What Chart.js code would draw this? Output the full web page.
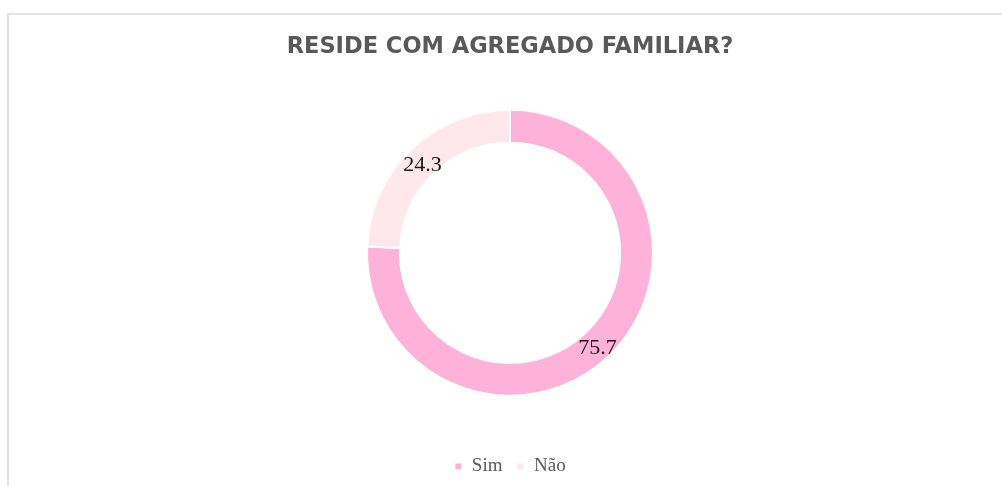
<!DOCTYPE html>
<html>
<head>
<meta charset="utf-8">
<script src="https://cdn.jsdelivr.net/npm/chart.js@4"></script>
<style>
  html, body { margin: 0; padding: 0; background: #fff; overflow: hidden; }
  #wrap { position: relative; width: 1002px; height: 486px; }
  #frame { position: absolute; left: 7px; top: 13px; width: 1100px; height: 600px;
           border-left: 2px solid #e3e3e3; border-top: 2px solid #e3e3e3; }
  canvas { position: absolute; left: 0; top: 0; }
</style>
</head>
<body>
<div id="wrap">
  <div id="frame"></div>
  <canvas id="chart" width="1002" height="486"></canvas>
</div>
<script>
// dados do gráfico
const categorias = ['Sim', 'Não'];
const valores = [75.7, 24.3];
const cores = ['#FFB2D9', '#FFE8EC'];

// escreve os valores no meio de cada fatia
const rotulosFatias = {
    id: 'rotulosFatias',
    afterDatasetsDraw(chart) {
        const ctx = chart.ctx;
        const meta = chart.getDatasetMeta(0);
        ctx.save();
        ctx.font = '22px "Liberation Serif", serif';
        ctx.fillStyle = '#1a1a1a';
        ctx.textAlign = 'center';
        ctx.textBaseline = 'middle';
        meta.data.forEach((arc, i) => {
            const p = arc.tooltipPosition();
            ctx.fillText(valores[i].toFixed(1), p.x, p.y + 4);
        });
        ctx.restore();
    }
};

const ctx = document.getElementById('chart').getContext('2d');
new Chart(ctx, {
    type: 'doughnut',
    data: {
        labels: categorias,
        datasets: [{
            data: valores,
            backgroundColor: cores,
            borderColor: '#ffffff',
            borderWidth: 2
        }]
    },
    options: {
        responsive: false,
        animation: false,
        radius: 143,
        cutout: '77%',
        layout: { padding: { top: 0, bottom: 0, left: 18 } },
        plugins: {
            title: {
                display: true,
                text: 'RESIDE COM AGREGADO FAMILIAR?',
                color: '#595959',
                font: { family: '"DejaVu Sans", sans-serif', size: 22.5, weight: 'bold' },
                padding: { top: 33.5, bottom: 2 }
            },
            legend: {
                position: 'bottom',
                labels: {
                    boxWidth: 8,
                    boxHeight: 8,
                    color: '#595959',
                    font: { family: '"Liberation Serif", serif', size: 19 },
                    padding: 14
                }
            },
            tooltip: { enabled: false }
        }
    },
    plugins: [rotulosFatias]
});
</script>
</body>
</html>
